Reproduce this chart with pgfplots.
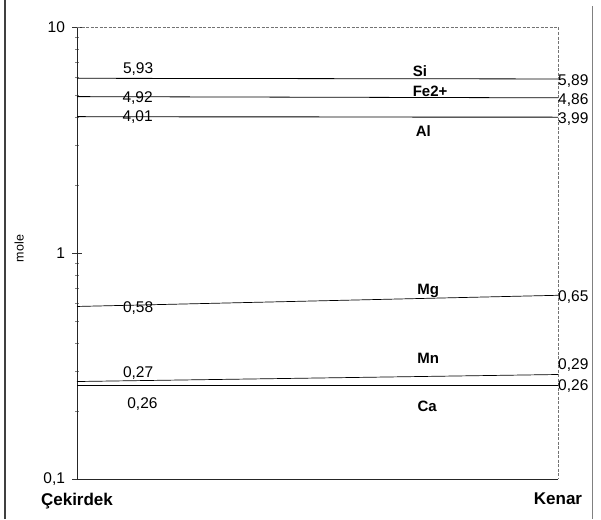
\documentclass[border=0pt]{standalone}
\usepackage{pgfplots}
\pgfplotsset{compat=1.18}
\usepackage{fontspec}
\setmainfont{Liberation Sans}
\begin{document}
\begin{tikzpicture}[x=1pt,y=1pt]
\path[use as bounding box] (0,0) rectangle (601,519);
\draw[line width=1.5pt, black!75] (5,0) -- (5,519);
\draw[line width=0.8pt, black!50] (592.5,0) -- (592.5,513);
\begin{axis}[at={(77pt,40pt)}, anchor=south west, scale only axis,
  width=481pt, height=452pt,
  ymode=log, ymin=0.1, ymax=10, xmin=0, xmax=1,
  axis lines*=left, axis line style={-, black!85, line width=0.8pt},
  /pgf/number format/assume math mode=true,
  ytick={0.1,1,10}, yticklabels={{0,1},1,10},
  tick align=center, major tick length=9pt, minor tick length=3pt,
  tick style={black!80, line width=0.6pt},
  minor tick style={black!50, line width=0.6pt},
  xtick={0,1}, xticklabels={Çekirdek,Kenar},
  xticklabel style={font=\fontsize{17}{20}\selectfont\bfseries, yshift=-6pt},
  x tick style={draw=none},
  yticklabel style={font=\fontsize{15.5}{18}\selectfont, xshift=-4pt},
  ylabel={mole},
  ylabel style={font=\fontsize{12.5}{14}\selectfont, at={(axis description cs:-0.12,0.51)}, anchor=center},
  clip=false,
]
\addplot[black, line width=0.8pt] coordinates {(0,5.93) (1,5.89)};
\addplot[black, line width=0.8pt] coordinates {(0,4.92) (1,4.86)};
\addplot[black, line width=0.9pt] coordinates {(0,4.01) (1,3.99)};
\addplot[black, line width=0.7pt] coordinates {(0,0.58) (1,0.65)};
\addplot[black, line width=0.7pt] coordinates {(0,0.27) (1,0.29)};
\addplot[black, line width=0.7pt] coordinates {(0,0.26) (1,0.26)};
\draw[black!55, dash pattern=on 3pt off 1.5pt, line width=0.6pt]
  (axis description cs:0,1) -- (axis description cs:1,1) -- (axis description cs:1,0);
\begin{scope}[every node/.style={font=\fontsize{15.5}{18}\selectfont, inner sep=0pt}]
\node at (axis cs:0.127,6.52) {5,93};
\node at (axis cs:0.126,4.85) {4,92};
\node at (axis cs:0.126,3.98) {4,01};
\node at (axis cs:0.127,0.571) {0,58};
\node at (axis cs:0.127,0.294) {0,27};
\node at (axis cs:0.136,0.215) {0,26};
\node[anchor=west] at (axis cs:1,5.77) {5,89};
\node[anchor=west] at (axis cs:1,4.75) {4,86};
\node[anchor=west] at (axis cs:1,3.92) {3,99};
\node[anchor=west] at (axis cs:1,0.639) {0,65};
\node[anchor=west] at (axis cs:1,0.319) {0,29};
\node[anchor=west] at (axis cs:1,0.258) {0,26};
\end{scope}
\begin{scope}[every node/.style={font=\fontsize{15}{18}\selectfont\bfseries, inner sep=0pt}]
\node at (axis cs:0.713,6.39) {Si};
\node at (axis cs:0.734,5.21) {Fe2+};
\node at (axis cs:0.72,3.47) {Al};
\node at (axis cs:0.73,0.679) {Mg};
\node at (axis cs:0.73,0.343) {Mn};
\node at (axis cs:0.728,0.210) {Ca};
\end{scope}
\end{axis}
\end{tikzpicture}
\end{document}
